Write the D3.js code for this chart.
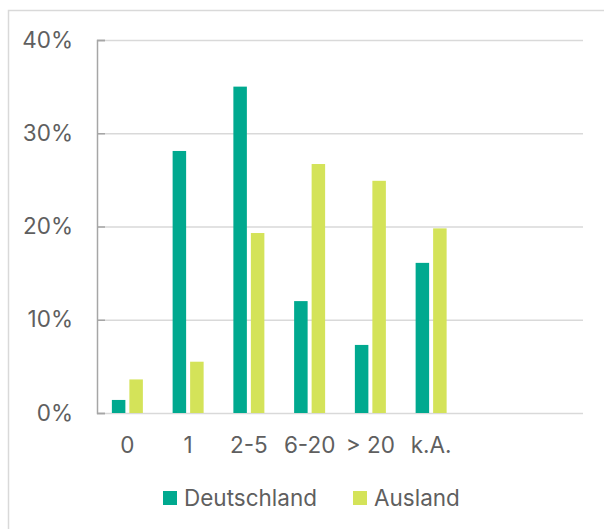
<!DOCTYPE html>
<html>
<head>
<meta charset="utf-8">
<script src="https://cdn.jsdelivr.net/npm/d3@7"></script>
<style>
  html, body { margin: 0; padding: 0; background: #fff; }
  svg text { font-family: Inter, "DejaVu Sans", sans-serif; font-weight: 400; fill: #5f5f5f; }
</style>
</head>
<body>
<div id="chart"></div>
<script>
// categories (two empty slots follow k.A. in the original layout)
const categories = ["0", "1", "2-5", "6-20", "> 20", "k.A."];
const slotCount = 8;
const seriesNames = ["Deutschland", "Ausland"];
const deutschland = [1.4, 28.1, 35.0, 12.0, 7.3, 16.1];
const ausland = [3.6, 5.5, 19.3, 26.7, 24.9, 19.8];
const yTicks = [0, 10, 20, 30, 40];
const colors = ["#00a98f", "#d4e359"];

const width = 604, height = 529;
const margin = {top: 40, right: 21, bottom: 116, left: 97};
const innerW = width - margin.left - margin.right;
const innerH = height - margin.top - margin.bottom;
const fontSize = "22.5px";

const svg = d3.select("#chart")
  .append("svg")
  .attr("width", width)
  .attr("height", height);

// outer frame
svg.append("rect")
  .attr("x", 8.5).attr("y", 10.5)
  .attr("width", 610).attr("height", 540)
  .attr("fill", "none")
  .attr("stroke", "#d9d9d9")
  .attr("stroke-width", 1.5);

const g = svg.append("g")
  .attr("transform", "translate(" + margin.left + "," + margin.top + ")");

const x0 = d3.scaleBand()
  .domain(d3.range(slotCount))
  .range([0, innerW]);

const groupW = 31;
const x1 = d3.scaleBand()
  .domain(seriesNames)
  .range([(x0.bandwidth() - groupW) / 2, (x0.bandwidth() + groupW) / 2])
  .paddingInner(4 / 17.5);

const y = d3.scaleLinear()
  .domain([0, 40])
  .range([innerH, 0]);

// gridlines
g.append("g")
  .attr("class", "grid")
  .call(d3.axisLeft(y).tickValues(yTicks).tickSize(-innerW).tickFormat(""))
  .call(s => s.select(".domain").remove())
  .selectAll("line")
  .attr("stroke", "#d9d9d9")
  .attr("stroke-width", 1.5);

// bars
const rows = categories.map((c, i) => ({i: i, values: [deutschland[i], ausland[i]]}));

const groups = g.selectAll(".group")
  .data(rows)
  .enter().append("g")
  .attr("class", "group")
  .attr("transform", d => "translate(" + x0(d.i) + ",0)");

groups.selectAll("rect")
  .data(d => d.values.map((v, k) => ({key: seriesNames[k], value: v, k: k})))
  .enter().append("rect")
  .attr("x", d => x1(d.key))
  .attr("width", x1.bandwidth())
  .attr("y", d => y(d.value))
  .attr("height", d => innerH - y(d.value))
  .attr("fill", d => colors[d.k]);

// y axis
const yAxis = g.append("g")
  .call(d3.axisLeft(y)
    .tickValues(yTicks)
    .tickSize(-8)
    .tickPadding(24)
    .tickFormat(d => d + "%"));

yAxis.select(".domain")
  .attr("stroke", "#a6a6a6")
  .attr("stroke-width", 1.5);
yAxis.selectAll(".tick line")
  .attr("stroke", "#a6a6a6")
  .attr("stroke-width", 1.5);
yAxis.selectAll("text")
  .style("font-size", fontSize);

// x axis labels
const xAxis = g.append("g")
  .attr("transform", "translate(0," + innerH + ")")
  .call(d3.axisBottom(x0)
    .tickValues(d3.range(categories.length))
    .tickSize(0)
    .tickPadding(24)
    .tickFormat(i => categories[i]));

xAxis.select(".domain").remove();
xAxis.selectAll("text")
  .style("font-size", fontSize);

// legend
const legendX = [163, 353];
const legend = svg.selectAll(".legend")
  .data(seriesNames)
  .enter().append("g")
  .attr("class", "legend")
  .attr("transform", (d, i) => "translate(" + legendX[i] + ",491)");

legend.append("rect")
  .attr("width", 14)
  .attr("height", 14)
  .attr("fill", (d, i) => colors[i]);

legend.append("text")
  .attr("x", 21)
  .attr("y", 14.5)
  .style("font-size", fontSize)
  .text(d => d);
</script>
</body>
</html>
